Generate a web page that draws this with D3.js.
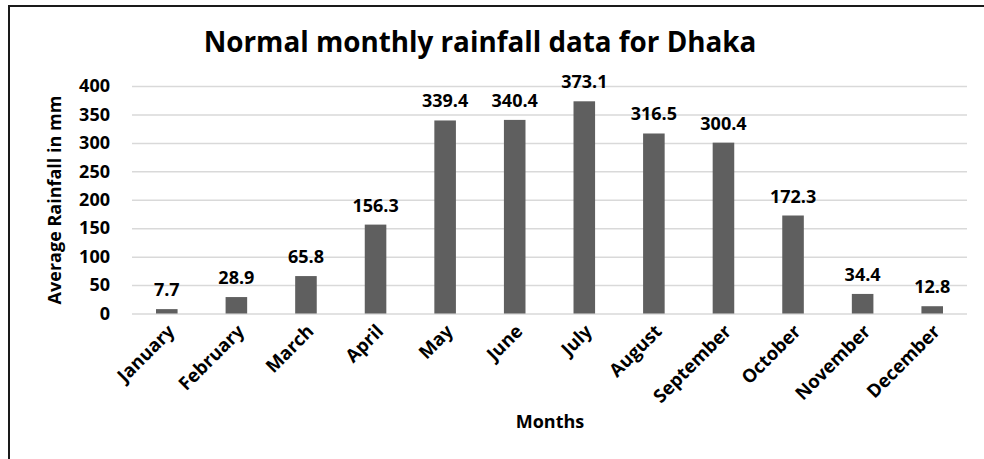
<!DOCTYPE html>
<html><head><meta charset="utf-8">
<script src="https://cdn.jsdelivr.net/npm/d3@7"></script>
<style>body{margin:0;background:#fff}svg{display:block;font-family:"Open Sans",sans-serif}</style>
</head><body><svg id="c" width="984" height="459"></svg>
<script>
const months = ["January","February","March","April","May","June","July","August","September","October","November","December"];
const rainfall = [7.7,28.9,65.8,156.3,339.4,340.4,373.1,316.5,300.4,172.3,34.4,12.8];
const yTicks = [0,50,100,150,200,250,300,350,400];
const titleText = "Normal monthly rainfall data for Dhaka";
const yTitle = "Average Rainfall in mm";
const xTitle = "Months";

const svg = d3.select("#c");
svg.append("rect").attr("x",9).attr("y",6).attr("width",1000).attr("height",500)
  .attr("fill","none").attr("stroke","#1a1a1a").attr("stroke-width",2);

const m = {l:132, r:967, t:86, b:313.5};
const x = d3.scaleBand().domain(months).range([m.l,m.r]).paddingInner(0.69).paddingOuter(0.345);
const y = d3.scaleLinear().domain([0,400]).range([m.b,m.t]);

const yAxis = d3.axisLeft(y).tickValues(yTicks).tickSize(-(m.r-m.l)).tickPadding(22);
const gy = svg.append("g").attr("transform",`translate(${m.l},0)`).call(yAxis);
gy.select(".domain").remove();
gy.selectAll(".tick line").attr("stroke","#d9d9d9").attr("stroke-width",1.5);
gy.selectAll(".tick text").attr("font-size",18).attr("font-weight","bold").attr("fill","#000").attr("font-family","Open Sans");

svg.selectAll("rect.bar").data(rainfall).join("rect").attr("class","bar")
  .attr("x",(d,i)=>x(months[i])).attr("width",x.bandwidth())
  .attr("y",d=>y(d)).attr("height",d=>y(0)-y(d)).attr("fill","#5f5f5f");

svg.selectAll("text.val").data(rainfall).join("text").attr("class","val")
  .attr("x",(d,i)=>x(months[i])+x.bandwidth()/2).attr("y",d=>y(d)-13)
  .attr("text-anchor","middle").attr("font-size",18).attr("font-weight","bold").attr("fill","#000")
  .text(d=>d.toFixed(1));

const xAxis = d3.axisBottom(x).tickSize(0).tickPadding(0);
const gx = svg.append("g").attr("transform",`translate(0,${m.b})`).call(xAxis);
gx.select(".domain").remove();
gx.selectAll(".tick text").attr("font-size",18.5).attr("font-weight","bold").attr("fill","#000")
  .attr("font-family","Open Sans")
  .attr("text-anchor","end").attr("dy",null).attr("y",null)
  .attr("transform","translate(9,19) rotate(-45)");

svg.append("text").attr("x",480).attr("y",52).attr("text-anchor","middle")
  .attr("font-size",27.8).attr("font-weight","bold").attr("fill","#000").text(titleText);
svg.append("text").attr("transform","translate(61,200) rotate(-90)").attr("text-anchor","middle")
  .attr("font-size",18).attr("font-weight","bold").attr("fill","#000").text(yTitle);
svg.append("text").attr("x",550).attr("y",428).attr("text-anchor","middle")
  .attr("font-size",18).attr("font-weight","bold").attr("fill","#000").text(xTitle);
</script></body></html>
